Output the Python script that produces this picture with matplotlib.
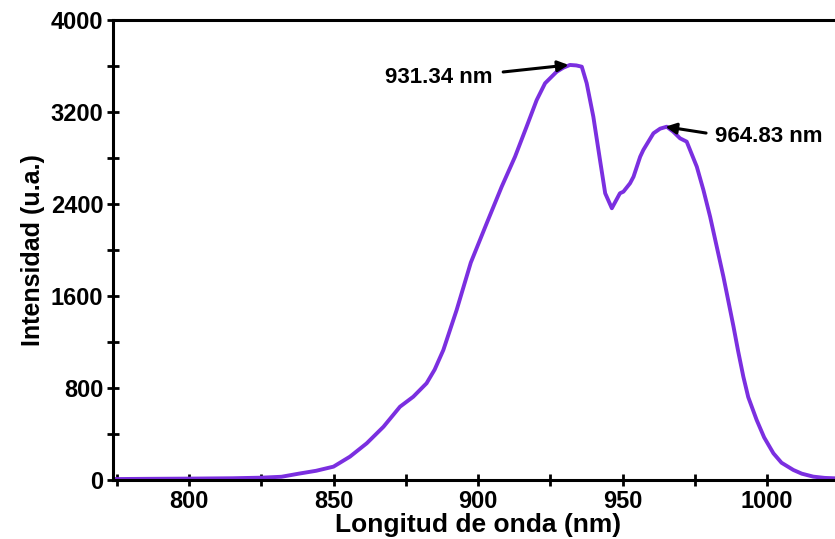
import matplotlib.pyplot as plt
from matplotlib.ticker import MultipleLocator

plt.rcParams['font.family'] = ['Liberation Sans', 'DejaVu Sans']
plt.rcParams['font.weight'] = 'bold'

# spectrum
wavelength = [774, 785, 800, 815, 825, 832, 838, 844, 850, 855.7, 861.5, 867.3,
              873, 877.6, 882.2, 885, 888, 892.6, 897.5, 903, 908.2, 912.8,
              916.8, 920.3, 923.2, 927.2, 929.5, 931.8, 934, 935.9, 937.6, 939.9,
              942.2, 944, 946.3, 949.1, 950.3, 952.6, 953.8, 956.1, 957.2, 960.7,
              963, 965.3, 967.5, 969.9, 972.2, 975.7, 978, 980.3, 982.5, 984.9,
              986.5, 988.4, 990, 991.8, 993.5, 996.4, 999, 1002.2, 1005, 1009.1,
              1012, 1016, 1020, 1026]
intensity = [8, 10, 12, 15, 20, 28, 55, 80, 116, 203, 319, 463, 637, 724, 841,
             960, 1130, 1478, 1890, 2232, 2551, 2811, 3072, 3304, 3450, 3550, 3585,
             3609, 3605, 3594, 3450, 3159, 2783, 2493, 2363, 2493, 2507, 2580,
             2637, 2811, 2870, 3015, 3055, 3072, 3030, 2971, 2942, 2724, 2520,
             2290, 2040, 1768, 1570, 1333, 1120, 898, 720, 522, 370, 232, 150, 87,
             55, 29, 18, 12]

peak_labels = ["931.34 nm", "964.83 nm"]
peak_x = [931.34, 964.83]
peak_y = [3609, 3072]

fig = plt.figure(figsize=(8.35, 5.39), dpi=100)
ax = fig.add_axes([0.1353, 0.1095, 1.01 - 0.1353, 0.8534])

ax.plot(wavelength, intensity, color='#7b2fe0', linewidth=2.8,
        solid_joinstyle='round', solid_capstyle='round')

ax.set_xlim(773.7, 1026.4)
ax.set_ylim(0, 4000)
ax.xaxis.set_major_locator(MultipleLocator(50))
ax.xaxis.set_minor_locator(MultipleLocator(25))
ax.yaxis.set_major_locator(MultipleLocator(800))
ax.yaxis.set_minor_locator(MultipleLocator(400))

for s in ax.spines.values():
    s.set_linewidth(2.2)
ax.tick_params(which='both', direction='inout', length=8, width=2, labelsize=17, pad=3)

ax.set_xlabel("Longitud de onda (nm)", fontsize=19, fontweight='bold', labelpad=0)
ax.set_ylabel("Intensidad (u.a.)", fontsize=18, fontweight='bold', labelpad=4)

# arrows and labels for the two peaks
ax.annotate("", xy=(peak_x[0], peak_y[0]), xytext=(908.7, 3548),
            arrowprops=dict(arrowstyle='-|>', color='black', lw=2.2, mutation_scale=16,
                            shrinkA=0, shrinkB=0))
ax.text(886.5, 3504, peak_labels[0], fontsize=16, fontweight='bold', ha='center', va='center')
ax.annotate("", xy=(peak_x[1], peak_y[1]), xytext=(978.9, 3017),
            arrowprops=dict(arrowstyle='-|>', color='black', lw=2.2, mutation_scale=16,
                            shrinkA=0, shrinkB=0))
ax.text(1000.7, 2983, peak_labels[1], fontsize=16, fontweight='bold', ha='center', va='center')

fig.savefig("out.png", dpi=100)
plt.close(fig)
